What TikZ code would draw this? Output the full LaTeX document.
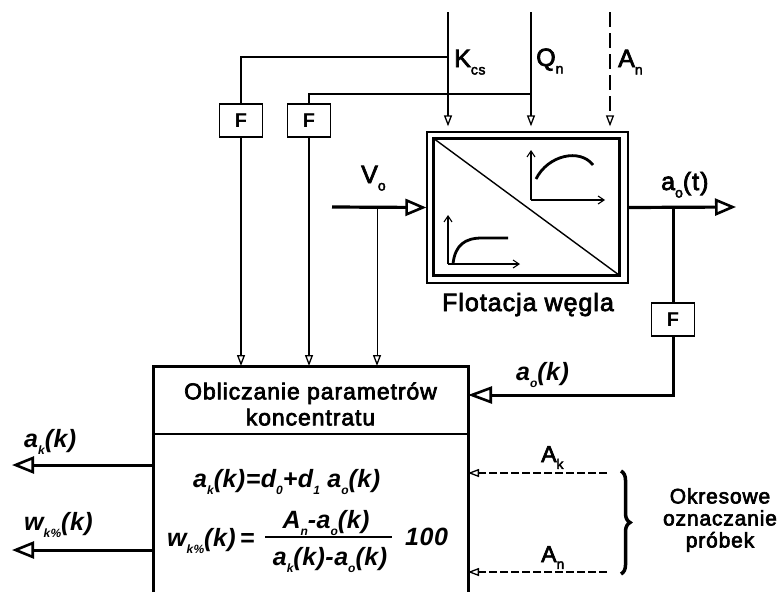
\documentclass[tikz,border=0pt]{standalone}
\usepackage{fontspec}
\setmainfont{Liberation Sans}[LetterSpace=2]
\newfontfamily\heavy{Liberation Sans}[LetterSpace=4,FakeBold=3]
\usetikzlibrary{arrows.meta,decorations.pathreplacing}
\newcommand\sbs[1]{\raisebox{-0.3em}{\fontsize{14}{14}\selectfont #1}}
\newcommand\isb[1]{\raisebox{-0.3em}{\fontsize{12}{12}\selectfont #1}}
\newcommand\fs[1]{\fontsize{#1}{#1}\selectfont}
\begin{document}
\begin{tikzpicture}[x=1pt,y=-1pt,
  lbl/.style={inner sep=0pt,anchor=base west,font=\fs{25}\heavy},
  ilbl/.style={inner sep=0pt,anchor=base west,font=\fs{25}\bfseries\itshape},
  fbox/.style={draw,line width=1.3pt,minimum width=43pt,minimum height=33pt,inner sep=0pt,font=\fs{20}\bfseries},
  bigarrow/.style={line width=3.2pt,-{Triangle[open,length=21pt,width=17pt,line width=2.6pt]}},
  smallarrow/.style={-{Triangle[open,length=11pt,width=8pt,line width=1.3pt]}},
  axisarrow/.style={line width=1.1pt,-{Straight Barb[length=6pt,width=8pt,line width=1.1pt]}},
  curve/.style={line width=2.8pt},
]
\useasboundingbox[fill=white] (0,0) rectangle (781,592);

% flotation block
\node[draw,line width=1.3pt,minimum width=201pt,minimum height=151pt,inner sep=0pt] (flot) at (527.5,207.5) {};
\draw[line width=3pt] (433,138) rectangle (619,275);
\draw[line width=1.4pt] (433,138) -- (619,275);
% graphs
\draw[axisarrow] (531,200) -- (531,150);
\draw[axisarrow] (531,200) -- (605,200);
\draw[curve] (536,179) .. controls (548,155) and (580,148) .. (593,165);
\draw[axisarrow] (448,264) -- (448,215);
\draw[axisarrow] (448,264) -- (520,264);
\draw[curve] (453,264) .. controls (455,245) and (465,238) .. (482,238) -- (508,238);
\node[inner sep=0pt,anchor=base,font=\fs{25}\heavy] (flotlbl) at (528,311) {Flotacja węgla};

% filter boxes
\node[fbox] (F1) at (241,120.5) {F};
\node[fbox] (F2) at (309,120.5) {F};
\node[fbox] (F3) at (673,319.5) {F};

% calculation block (open at bottom)
\coordinate (cTL) at (153,366);
\coordinate (cTR) at (468,366);
\coordinate (cBL) at (153,592);
\coordinate (cBR) at (468,592);
\draw[line width=3pt] (cBL) -- (cTL) -- (cTR) -- (cBR);
\draw[line width=2pt] (153,434) -- (468,434);
\node[inner sep=0pt,align=center,font=\fs{23}\heavy] (calctitle) at (310.5,404) {Obliczanie parametrów\\[3pt]koncentratu};

% top inputs
\coordinate (Ktop) at (448,12);
\coordinate (Qtop) at (531,12);
\coordinate (Atop) at (610,12);
\coordinate (Kbr) at (448,57);
\coordinate (Qbr) at (531,94);
\draw[line width=1.5pt,smallarrow,shorten >=5pt] (Ktop) -- (Ktop |- flot.north);
\draw[line width=2pt,smallarrow,shorten >=5pt] (Qtop) -- (Qtop |- flot.north);
\draw[line width=2pt,dash pattern=on 15pt off 6pt,smallarrow,shorten >=5pt] (Atop) -- (Atop |- flot.north);
\draw[line width=1.5pt] (Kbr) -| (F1.north);
\draw[line width=1.5pt] (Qbr) -| (F2.north);
\draw[line width=2pt,smallarrow] (F1.south) -- (F1.south |- cTL);
\draw[line width=2pt,smallarrow] (F2.south) -- (F2.south |- cTL);
\node[lbl] (Klbl) at (454,67) {K\sbs{cs}};
\node[lbl] (Qlbl) at (536,66) {Q\sbs{n}};
\node[lbl] (Albl) at (618,67) {A\sbs{n}};

% V_o input
\coordinate (Vin) at (332,207);
\coordinate (Vbr) at (377,207);
\draw[bigarrow] (Vin) -- (flot.west);
\draw[line width=1pt,smallarrow] (Vbr) -- (Vbr |- cTL);
\node[lbl] (Vlbl) at (361,183) {V\sbs{o}};

% output
\coordinate (out) at (736,207);
\coordinate (obr) at (673,207);
\coordinate (ocorner) at (673,395);
\draw[bigarrow] (flot.east) -- (out);
\draw[line width=3pt] (obr) -- (F3.north);
\draw[line width=3pt,-{Triangle[open,length=24pt,width=17pt,line width=2.6pt]}] (F3.south) -- (ocorner) -- (ocorner -| cTR);
\node[lbl] (aotlbl) at (661,190) {a\sbs{o}(t)};
\node[ilbl] (aoklbl) at (516,380) {a\isb{o}(k)};

% outputs of calculation block
\coordinate (ak) at (12,465);
\coordinate (wk) at (12,550);
\draw[line width=3pt,-{Triangle[open,length=22pt,width=17pt,line width=2.6pt]}] (ak -| cTL) -- (ak);
\draw[line width=3pt,-{Triangle[open,length=22pt,width=17pt,line width=2.6pt]}] (wk -| cTL) -- (wk);
\node[ilbl] (aklbl) at (24,447) {a\isb{k}(k)};
\node[ilbl] (wklbl) at (24,530) {w\isb{k\%}(k)};

% formulas
\node[ilbl] (f1) at (193,487) {a\isb{k}(k)=d\isb{0}+d\isb{1} a\isb{o}(k)};
\node[ilbl] (f2l) at (167,546) {w\isb{k\%}(k)\,=};
\node[inner sep=0pt,anchor=base,font=\fs{25}\bfseries\itshape] (num) at (326,528) {A\isb{n}-a\isb{o}(k)};
\node[inner sep=0pt,anchor=base,font=\fs{25}\bfseries\itshape] (den) at (330,565) {a\isb{k}(k)-a\isb{o}(k)};
\draw[line width=2pt] (265,537) -- (392,537);
\node[ilbl] (hundred) at (405,545) {100};

% periodic sampling inputs
\coordinate (Ak) at (607,473);
\coordinate (An) at (607,572);
\draw[line width=1.5pt,dash pattern=on 8pt off 3pt,smallarrow] (Ak) -- (Ak -| cTR);
\draw[line width=1.5pt,dash pattern=on 8pt off 3pt,smallarrow] (An) -- (An -| cTR);
\node[lbl,font=\fs{23}\heavy] (Aklbl) at (541,462) {A\sbs{k}};
\node[lbl,font=\fs{23}\heavy] (Anlbl) at (541,562) {A\sbs{n}};
\draw[decorate,decoration={brace,amplitude=9pt},line width=3.5pt] (621,471) -- (621,574);
\node[inner sep=0pt,align=center,font=\fs{21}\heavy] (okr) at (720,520) {Okresowe\\[1pt]oznaczanie\\[1pt]próbek};
\end{tikzpicture}
\end{document}
